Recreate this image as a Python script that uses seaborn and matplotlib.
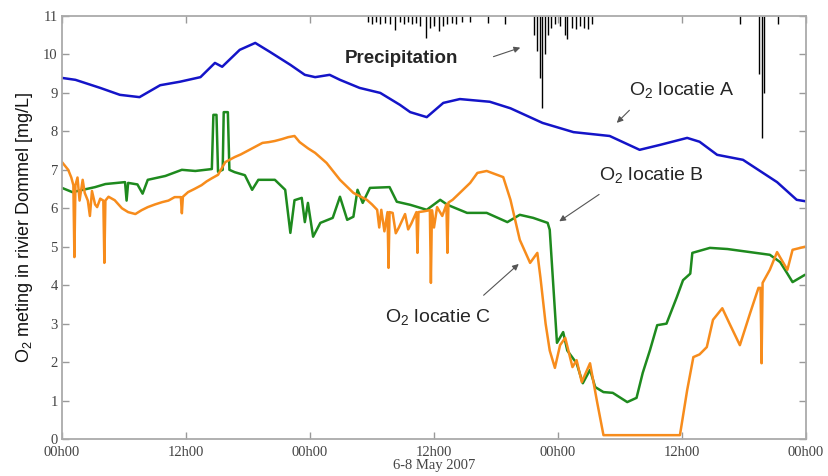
import numpy as np
import pandas as pd
import matplotlib
matplotlib.use("Agg")
import matplotlib.pyplot as plt
import seaborn as sns

# ---- data (hours since 6 May 2007 00h00) ----
hours_a = [0.0, 1.3, 3.7, 5.6, 7.5, 9.5, 11.4, 13.4, 14.8, 15.5, 17.2, 18.7, 20.1, 22.1,
           23.5, 24.5, 25.9, 26.9, 28.8, 30.8, 32.7, 33.7, 35.3, 36.9, 38.5, 41.4, 43.4,
           46.5, 49.5, 53.0, 55.9, 57.9, 60.5, 61.7, 63.4, 65.9, 69.2, 71.1, 72.0]
o2_a = [9.39, 9.34, 9.13, 8.95, 8.89, 9.2, 9.29, 9.41, 9.78, 9.68, 10.12, 10.3, 10.07, 9.73,
        9.47, 9.41, 9.47, 9.34, 9.13, 9.0, 8.69, 8.5, 8.37, 8.74, 8.84, 8.77, 8.6,
        8.22, 7.98, 7.88, 7.52, 7.65, 7.83, 7.73, 7.39, 7.26, 6.68, 6.22, 6.18]

hours_b = [0.0, 1.0, 3.2, 4.2, 6.1, 6.25, 6.4, 7.3, 7.8, 8.3, 10.0, 11.6, 12.9, 14.5, 14.65,
           14.95, 15.1, 15.55, 15.65, 16.05, 16.2, 16.7, 17.7, 18.4, 19.0, 20.6, 21.6, 22.1,
           22.5, 23.2, 23.5, 23.8, 24.3, 25.0, 26.2, 26.9, 27.6, 28.2, 28.6, 29.1, 29.8, 31.7,
           32.4, 33.7, 35.3, 36.6, 37.3, 39.2, 41.1, 43.1, 44.3, 45.6, 47.0, 47.2, 47.9, 48.5,
           48.9, 49.8, 50.4, 51.1, 51.6, 52.4, 53.3, 54.7, 55.6, 56.2, 56.9, 57.6, 58.5, 59.5,
           60.1, 60.8, 61.0, 62.7, 64.4, 68.5, 69.5, 70.2, 70.7, 71.9]
o2_b = [6.53, 6.42, 6.55, 6.63, 6.68, 6.2, 6.66, 6.62, 6.38, 6.74, 6.84, 7.0, 6.97, 7.02, 8.43,
        8.43, 6.95, 7.0, 8.5, 8.5, 7.0, 6.94, 6.86, 6.48, 6.74, 6.74, 6.48, 5.36,
        6.21, 6.27, 5.64, 6.14, 5.26, 5.62, 5.75, 6.3, 5.7, 5.78, 6.48, 6.14, 6.53, 6.55,
        6.17, 6.09, 5.96, 6.22, 6.09, 5.88, 5.88, 5.64, 5.83, 5.75, 5.62, 5.44, 2.5, 2.78,
        2.3, 1.97, 1.45, 1.8, 1.35, 1.22, 1.2, 0.96, 1.07, 1.72, 2.31, 2.96, 3.0, 3.69,
        4.13, 4.3, 4.84, 4.97, 4.94, 4.79, 4.6, 4.3, 4.08, 4.27]

hours_c = [0.0, 0.3, 0.6, 0.9, 1.1, 1.2, 1.3, 1.5, 1.7, 2.0, 2.2, 2.5, 2.7, 2.9, 3.2, 3.4, 3.7,
           4.0, 4.1, 4.2, 4.5, 5.1, 5.8, 6.4, 7.1, 7.7, 8.3, 9.0, 9.7, 10.3, 10.9, 11.5, 11.6,
           11.7, 12.2, 12.8, 13.5, 14.0, 14.5, 15.1, 15.8, 16.7, 17.3, 18.0, 18.7, 19.4, 20.0,
           20.6, 21.3, 21.9, 22.5, 23.0, 23.8, 24.5, 25.6, 26.9, 28.2, 29.5, 30.0, 30.5, 30.7,
           30.9, 31.2, 31.5, 31.6, 31.7, 32.0, 32.3, 32.6, 33.2, 33.5, 33.8, 34.3, 34.4, 34.5,
           35.0, 35.6, 35.7, 35.8, 36.0, 36.3, 36.8, 37.2, 37.3, 37.4, 37.8, 38.5, 39.5, 40.2,
           41.1, 42.1, 42.7, 43.4, 44.3, 45.3, 46.0, 46.3, 46.8, 47.2, 47.7, 48.2, 48.7, 49.4,
           49.8, 50.3, 51.1, 51.8, 52.4, 59.8, 60.5, 61.1, 61.7, 62.4, 63.0, 63.9, 64.6, 65.6,
           66.6, 67.4, 67.6, 67.7, 67.8, 68.5, 69.2, 70.2, 70.7, 71.9]
o2_c = [7.2, 7.1, 7.0, 6.8, 6.6, 4.73, 6.6, 6.8, 6.2, 6.74, 6.4, 6.2, 5.8, 6.45, 6.1, 6.03, 6.25,
        6.2, 4.58, 6.2, 6.3, 6.21, 6.0, 5.9, 5.85, 5.95, 6.03, 6.1, 6.16, 6.2, 6.29, 6.29, 5.87,
        6.3, 6.42, 6.5, 6.6, 6.7, 6.78, 6.87, 7.2, 7.33, 7.4, 7.5, 7.6, 7.7, 7.72,
        7.75, 7.8, 7.85, 7.88, 7.72, 7.56, 7.44, 7.18, 6.74, 6.4, 6.22, 6.1, 5.96, 5.5,
        5.96, 5.4, 5.9, 4.45, 5.9, 5.88, 5.35, 5.5, 5.85, 5.45, 5.6, 5.9, 4.84, 5.9,
        5.92, 5.95, 4.06, 5.95, 5.5, 6.03, 5.8, 6.1, 4.84, 6.15, 6.22, 6.4, 6.66, 6.92,
        6.97, 6.87, 6.81, 6.22, 5.18, 4.58, 4.84, 4.2, 3.0, 2.3, 1.85, 2.44, 2.63, 1.87,
        2.05, 1.48, 1.97, 0.94, 0.1, 0.1, 1.27, 2.13, 2.2, 2.39, 3.1, 3.4, 3.0, 2.44,
        3.28, 3.93, 3.93, 1.97, 4.06, 4.4, 4.86, 4.4, 4.92, 5.0]

# precipitation bars hanging from the top of the axis (depth in axis units)
precip_hours = [29.6, 30.0, 30.4, 30.8, 31.3, 31.7, 32.2, 32.7, 33.1, 33.5, 33.9, 34.3, 34.6,
                35.2, 35.6, 36.0, 36.5, 36.9, 37.3, 37.7, 38.1, 38.7, 39.5, 41.2, 42.9, 45.7,
                46.0, 46.3, 46.5, 46.7, 47.0, 47.3, 47.7, 48.2, 48.7, 48.9, 49.4, 49.7, 50.1,
                50.5, 50.9, 51.3, 65.6, 67.5, 67.7, 67.9, 69.3]
precip_depth = [0.15, 0.2, 0.15, 0.22, 0.18, 0.2, 0.36, 0.15, 0.2, 0.15, 0.22, 0.18, 0.25,
                0.57, 0.3, 0.25, 0.4, 0.25, 0.2, 0.18, 0.2, 0.15, 0.15, 0.18, 0.22, 0.5,
                0.9, 1.6, 2.4, 1.0, 0.5, 0.3, 0.2, 0.25, 0.5, 0.6, 0.3, 0.35, 0.25,
                0.3, 0.35, 0.2, 0.2, 1.5, 3.17, 2.0, 0.2]

xtick_hours = [0, 12, 24, 36, 48, 60, 72]
xtick_labels = ["00h00", "12h00", "00h00", "12h00", "00h00", "12h00", "00h00"]
ytick_values = list(range(0, 12))

# ---- plotting ----
sns.set_style("ticks")
plt.rcParams['font.family'] = ['Liberation Sans', 'DejaVu Sans']
plt.rcParams['mathtext.default'] = 'regular'

fig = plt.figure(figsize=(8.29, 4.76), dpi=100)
ax = fig.add_axes([62 / 829, 1 - 439 / 476, 744 / 829, 423 / 476])

df_a = pd.DataFrame({"h": hours_a, "v": o2_a})
df_b = pd.DataFrame({"h": hours_b, "v": o2_b})
df_c = pd.DataFrame({"h": hours_c, "v": o2_c})

sns.lineplot(data=df_a, x="h", y="v", color="#1414c8", linewidth=1.8, ax=ax)
sns.lineplot(data=df_b, x="h", y="v", color="#1e8a1e", linewidth=1.8, ax=ax)
sns.lineplot(data=df_c, x="h", y="v", color="#f78c1c", linewidth=1.8, ax=ax)

ph = np.array(precip_hours)
pdp = np.array(precip_depth)
ax.vlines(ph, 11 - pdp, 11, color="black", linewidth=1.0)

ax.set_xlim(0, 72)
ax.set_ylim(0, 11)
ax.set_xticks(xtick_hours)
ax.set_xticklabels(xtick_labels)
ax.set_yticks(ytick_values)
ax.set_yticklabels([str(v) for v in ytick_values])
for lab in ax.get_xticklabels() + ax.get_yticklabels():
    lab.set_family(['Liberation Serif', 'DejaVu Serif'])
    lab.set_fontsize(10.5)
ax.tick_params(direction="in", top=True, right=True, length=5, width=1,
               color="#999999", labelcolor="#444444")
ax.tick_params(axis="x", pad=5)
ax.tick_params(axis="y", pad=3)
for s in ax.spines.values():
    s.set_color("#aaaaaa")
    s.set_linewidth(1.3)

ax.set_xlabel("6-8 May 2007", family=['Liberation Serif', 'DejaVu Serif'],
              fontsize=10.5, color="#444444", labelpad=0)
ax.set_ylabel("O$_2$ meting in rivier Dommel [mg/L]", fontsize=13, color="#111111", labelpad=6)

arrow = dict(arrowstyle="-|>", color="#555555", lw=0.8, mutation_scale=9)
ax.text(27.4, 9.9, "Precipitation", fontsize=13.5, fontweight="bold", va="center", ha="left")
ax.annotate("", xy=(44.6, 10.2), xytext=(41.5, 9.92), arrowprops=arrow)

ax.text(54.9, 9.08, "O$_2$ locatie A", fontsize=14, va="center", ha="left")
ax.annotate("", xy=(53.5, 8.17), xytext=(55.1, 8.6), arrowprops=arrow)

ax.text(52.0, 6.87, "O$_2$ locatie B", fontsize=14, va="center", ha="left")
ax.annotate("", xy=(47.9, 5.62), xytext=(52.2, 6.4), arrowprops=arrow)

ax.text(31.3, 3.17, "O$_2$ locatie C", fontsize=14, va="center", ha="left")
ax.annotate("", xy=(44.4, 4.6), xytext=(40.6, 3.69), arrowprops=arrow)

fig.savefig("out.png", dpi=100)
